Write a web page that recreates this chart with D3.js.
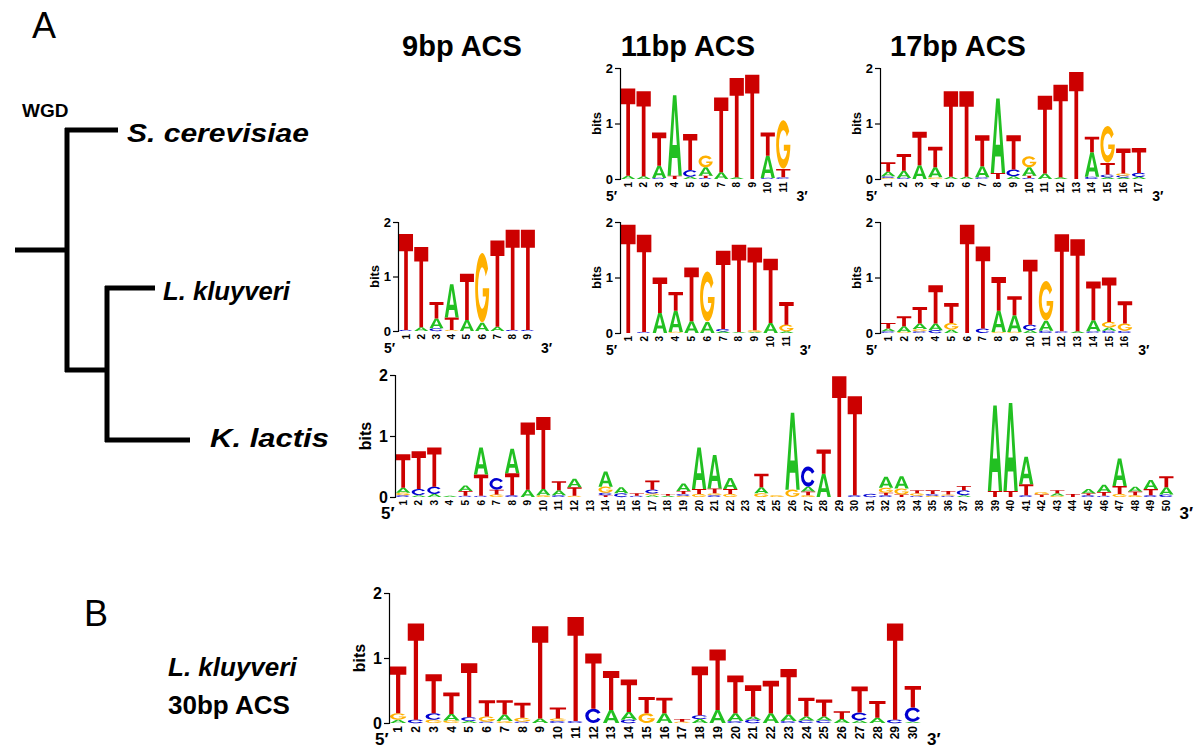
<!DOCTYPE html>
<html><head><meta charset="utf-8">
<script src="https://cdn.jsdelivr.net/npm/d3@7"></script>
<style>body{margin:0;background:#fff} svg{display:block} text{font-family:"Liberation Sans",Arial,Helvetica,sans-serif}</style>
</head><body><svg id="c" width="1200" height="750"></svg>
<script>
// ---------- data (bits per letter at each position, listed bottom -> top) ----------
const yTicks = [0, 1, 2];
const titles = ["9bp ACS", "11bp ACS", "17bp ACS"];
const species = ["S. cerevisiae", "L. kluyveri", "K. lactis"];

const scer11 = [
  {A:0.06,T:1.57},{A:0.05,T:1.53},{C:0.02,A:0.22,T:0.6},{T:0.06,A:1.45},{A:0.04,C:0.12,T:0.65},
  {C:0.02,T:0.04,A:0.15,G:0.21},{A:0.12,T:1.35},{A:0.03,T:1.79},{T:1.88},{C:0.02,A:0.4,T:0.42},{C:0.03,T:0.15,G:0.87}
];
const scer17 = [
  {G:0.02,C:0.03,A:0.08,T:0.17},{C:0.02,A:0.13,T:0.3},{A:0.25,T:0.6},{G:0.03,A:0.18,T:0.37},{A:0.04,T:1.54},
  {A:0.04,T:1.54},{C:0.03,A:0.2,T:0.56},{T:0.11,A:1.34},{A:0.05,C:0.12,T:0.62},{C:0.02,T:0.04,A:0.15,G:0.2},
  {A:0.1,T:1.4},{A:0.03,T:1.67},{T:1.93},{C:0.04,A:0.44,T:0.28},{A:0.03,C:0.05,T:0.21,G:0.66},
  {A:0.03,C:0.03,G:0.04,T:0.45},{A:0.04,C:0.07,T:0.45}
];
const lk9 = [
  {C:0.02,T:1.76},{A:0.07,T:1.47},{C:0.05,A:0.18,T:0.3},{G:0.02,T:0.23,A:0.61},{A:0.2,T:0.85},
  {A:0.15,G:1.27},{A:0.08,T:1.58},{C:0.02,T:1.84},{C:0.02,T:1.84}
];
const lk11 = [
  {T:1.95},{C:0.02,T:1.75},{A:0.36,T:0.64},{G:0.02,A:0.38,T:0.34},{A:0.21,T:0.97},
  {A:0.2,G:0.9},{A:0.03,C:0.04,T:1.41},{A:0.02,T:1.57},{A:0.02,G:0.03,T:1.49},{A:0.18,T:1.16},{A:0.03,G:0.12,T:0.41}
];
const lk17 = [
  {C:0.03,A:0.05,T:0.1},{G:0.02,A:0.1,T:0.18},{C:0.03,G:0.04,A:0.1,T:0.3},{C:0.05,A:0.12,T:0.69},{A:0.06,G:0.12,T:0.36},
  {T:1.95},{C:0.08,T:1.48},{G:0.02,A:0.38,T:0.61},{G:0.02,A:0.3,T:0.34},{A:0.05,C:0.1,T:1.17},
  {C:0.04,A:0.18,G:0.71},{C:0.03,T:1.75},{A:0.03,T:1.66},{C:0.03,A:0.2,T:0.7},{C:0.04,A:0.06,G:0.1,T:0.8},{C:0.04,G:0.13,T:0.4}
];
const kl50 = [
  {C:0.03,G:0.04,A:0.08,T:0.55},{A:0.03,C:0.1,T:0.62},{A:0.05,C:0.12,T:0.64},{A:0.02},{C:0.02,T:0.08,A:0.09},
  {C:0.02,T:0.35,A:0.44},{G:0.04,T:0.08,C:0.19},{C:0.03,T:0.36,A:0.4},{A:0.12,T:1.1},{G:0.03,A:0.1,T:1.18},
  {C:0.03,A:0.08,T:0.15},{G:0.02,T:0.14,A:0.14},{},{T:0.03,C:0.04,G:0.1,A:0.25},{C:0.06,A:0.1},
  {C:0.02,T:0.04},{A:0.03,G:0.03,C:0.06,T:0.15},{A:0.02,T:0.03},{G:0.02,C:0.03,T:0.05,A:0.12},{G:0.05,T:0.08,A:0.68},
  {C:0.03,G:0.03,T:0.08,A:0.55},{G:0.05,T:0.08,A:0.18},{},{G:0.06,A:0.1,T:0.22},{G:0.03},
  {G:0.12,A:1.26},{G:0.03,T:0.06,A:0.08,C:0.33},{A:0.38,T:0.4},{T:1.98},{C:0.03,T:1.62},
  {C:0.05},{C:0.03,T:0.04,G:0.08,A:0.18},{T:0.04,G:0.1,A:0.2},{C:0.02,G:0.04,T:0.05},{G:0.02,C:0.03,T:0.06},
  {C:0.02,G:0.02,T:0.06},{A:0.03,C:0.08,T:0.07},{},{T:0.1,A:1.4},{T:0.1,A:1.44},
  {C:0.03,T:0.18,A:0.45},{T:0.04,G:0.04},{G:0.02,A:0.04,T:0.05},{T:0.05},{C:0.03,T:0.03,A:0.07},
  {C:0.02,T:0.06,A:0.12},{G:0.05,T:0.13,A:0.45},{G:0.03,T:0.06,A:0.08},{C:0.03,T:0.1,A:0.15},{C:0.04,A:0.12,T:0.18}
];
const lk30 = [
  {A:0.05,G:0.1,T:0.72},{C:0.05,T:1.48},{G:0.05,C:0.1,T:0.6},{G:0.04,A:0.1,T:0.33},{A:0.03,C:0.06,T:0.83},
  {C:0.02,G:0.08,T:0.25},{G:0.03,A:0.1,T:0.22},{C:0.02,G:0.06,T:0.23},{A:0.07,T:1.42},{C:0.03,G:0.04,T:0.17},
  {C:0.03,T:1.6},{C:0.22,T:0.85},{A:0.2,T:0.6},{C:0.05,A:0.12,T:0.5},{G:0.15,T:0.25},
  {A:0.15,T:0.24},{G:0.02,T:0.04},{A:0.06,C:0.06,T:0.75},{A:0.2,T:0.93},{C:0.03,A:0.12,T:0.58},
  {C:0.05,A:0.05,T:0.48},{A:0.15,T:0.5},{C:0.03,A:0.1,T:0.7},{C:0.04,A:0.06,T:0.29},{C:0.04,A:0.06,T:0.26},
  {A:0.06,T:0.12},{A:0.04,C:0.12,T:0.4},{A:0.08,T:0.26},{C:0.05,T:1.48},{A:0.02,C:0.22,T:0.33}
];

// ---------- drawing ----------
const svg = d3.select("#c");
const COLORS = {A:"#22c022", C:"#0000d0", G:"#ffb000", T:"#cc0000"};
const GLYPH = {
  T: "M0,0H100V18H63V100H37V18H0Z",
  A: "M0,100L38,0H62L100,100H77L69,78H31L23,100Z M35,62H65L50,18Z",
  C: "M94,26A50,50 0 1 0 94,74L77,64A30,30 0 1 1 77,36Z",
  G: "M92,22A50,50 0 1 0 100,50H54V62H77.5A30,30 0 1 1 75,33Z"
};

function logo(data, o) {
  const g = svg.append("g");
  const n = data.length;
  const x = d3.scaleBand().domain(d3.range(1, n + 1)).range([o.left + 1, o.left + 1 + n * o.colW]).paddingInner(0.08);
  const y = d3.scaleLinear().domain([0, 2]).range([o.base, o.base - o.h]);
  data.forEach((col, i) => {
    let cum = 0;
    Object.entries(col).forEach(([L, v]) => {
      const y0 = y(cum), y1 = y(cum + v);
      const hh = y0 - y1, w = x.bandwidth();
      g.append("path").attr("d", GLYPH[L]).attr("fill", COLORS[L]).attr("fill-rule", "evenodd")
        .attr("transform", `translate(${x(i + 1)},${y1}) scale(${w / 100},${hh / 100})`);
      cum += v;
    });
  });
  const ax = d3.axisLeft(y).tickValues(yTicks).tickSize(5).tickPadding(2).tickFormat(d3.format("d"));
  const ga = g.append("g").attr("transform", `translate(${o.left},0)`).call(ax);
  ga.select(".domain").attr("stroke", "#000").attr("stroke-width", 1.2);
  ga.selectAll(".tick line").attr("stroke", "#000").attr("stroke-width", 1.2);
  ga.selectAll("text").attr("font-size", o.yfs).attr("font-weight", "bold").attr("fill", "#000")
    .attr("font-family", '"Liberation Sans",Arial,sans-serif');
  g.append("text").attr("transform", `translate(${o.left - o.bitsOff},${o.base - o.h / 2}) rotate(-90)`)
    .attr("text-anchor", "middle").attr("dy", "0.35em").attr("font-size", o.bfs).attr("font-weight", "bold").text("bits");
  g.selectAll(".xl").data(d3.range(1, n + 1)).join("text")
    .attr("transform", d => `translate(${x(d) + x.bandwidth() / 2},${o.base + 3}) rotate(-90)`)
    .attr("text-anchor", "end").attr("dy", "0.35em").attr("font-size", o.xfs).attr("font-weight", "bold").text(d => d);
  g.append("text").attr("x", o.left - 14).attr("y", o.base + o.p5).attr("font-size", o.pfs).attr("font-weight", "bold").text("5\u2032");
  g.append("text").attr("x", o.left + 1 + n * o.colW + 6).attr("y", o.base + o.p5).attr("font-size", o.pfs).attr("font-weight", "bold").text("3\u2032");
}

const small = {yfs: 13, bfs: 13, bitsOff: 24, xfs: 10, pfs: 14, p5: 22};
logo(scer11, {...small, left: 620, base: 179, h: 111, colW: 15.4});
logo(scer17, {...small, left: 880, base: 179, h: 111, colW: 15.6});
logo(lk9, {...small, left: 398, base: 331, h: 109, colW: 15.1});
logo(lk11, {...small, left: 620, base: 333, h: 111, colW: 15.7});
logo(lk17, {...small, left: 880, base: 333, h: 111, colW: 15.7});
logo(kl50, {yfs: 16, bfs: 16, bitsOff: 30, xfs: 10, pfs: 17, p5: 22, left: 395, base: 497, h: 122, colW: 15.55});
logo(lk30, {yfs: 16, bfs: 16, bitsOff: 30, xfs: 12, pfs: 17, p5: 22, left: 389, base: 723, h: 130, colW: 17.7});

// titles
const titleX = [462, 688, 958];
svg.selectAll(".title").data(titles).join("text").attr("x", (d, i) => titleX[i]).attr("y", 56)
  .attr("text-anchor", "middle").attr("font-size", 29).attr("font-weight", "bold").text(d => d);

// panel letters
svg.append("text").attr("x", 32).attr("y", 38).attr("font-size", 36).text("A");
svg.append("text").attr("x", 84).attr("y", 626).attr("font-size", 36).text("B");

// tree
const tree = [
  [15, 250, 67, 250], [67, 128, 67, 372], [65, 130, 118, 130], [65, 370, 107, 370],
  [107, 286, 107, 442], [105, 288, 155, 288], [105, 440, 190, 440]
];
svg.selectAll(".br").data(tree).join("line").attr("x1", d => d[0]).attr("y1", d => d[1]).attr("x2", d => d[2]).attr("y2", d => d[3])
  .attr("stroke", "#000").attr("stroke-width", 5);
svg.append("text").attr("x", 22).attr("y", 117).attr("font-size", 19).attr("font-weight", "bold").text("WGD");
const spX = [127, 163, 210], spY = [142, 300, 447], spW = [182, 127, 119];
svg.selectAll(".sp").data(species).join("text").attr("x", (d, i) => spX[i]).attr("y", (d, i) => spY[i])
  .attr("font-size", 26).attr("font-weight", "bold").attr("font-style", "italic")
  .attr("textLength", (d, i) => spW[i]).attr("lengthAdjust", "spacingAndGlyphs").text(d => d);
svg.append("text").attr("x", 168).attr("y", 676).attr("font-size", 26).attr("font-weight", "bold").attr("font-style", "italic").text("L. kluyveri");
svg.append("text").attr("x", 168).attr("y", 714).attr("font-size", 26).attr("font-weight", "bold").text("30bp ACS");
</script></body></html>
